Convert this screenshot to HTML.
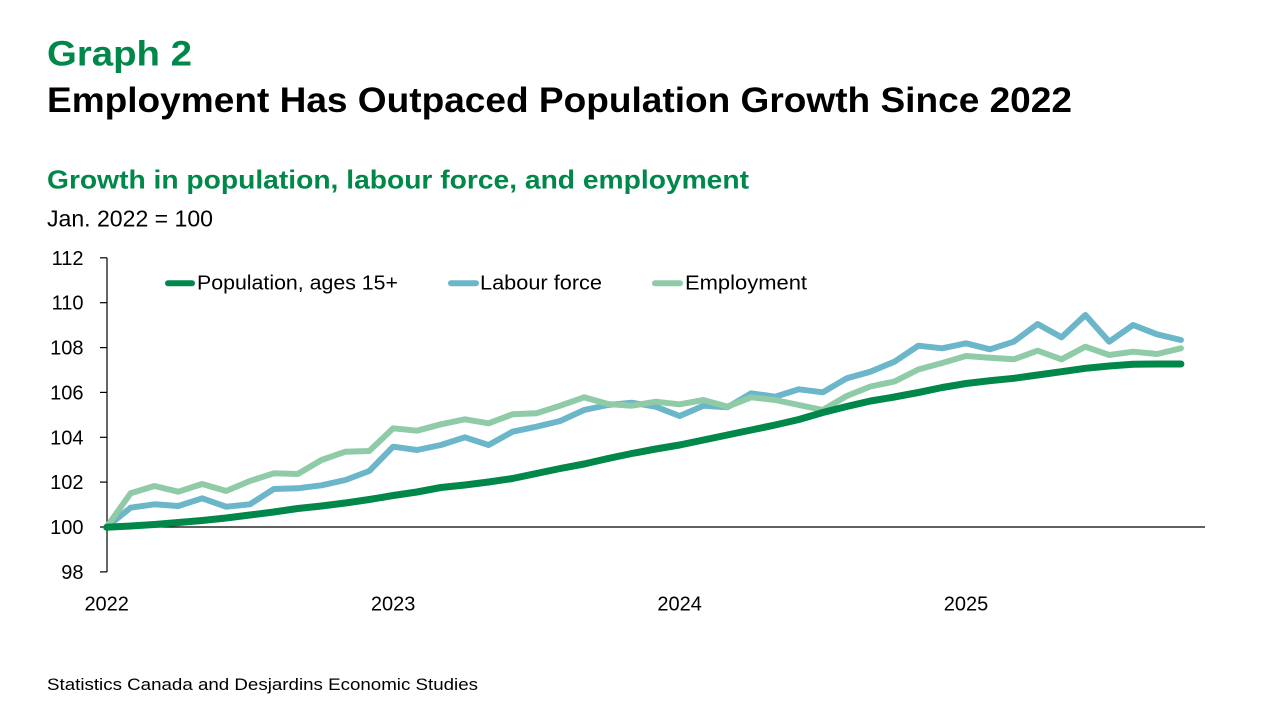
<!DOCTYPE html>
<html>
<head>
<meta charset="utf-8">
<style>
  html, body { margin: 0; padding: 0; background: #ffffff; }
  body { width: 1280px; height: 720px; overflow: hidden; }
  svg { display: block; }
  text { font-family: "Liberation Sans", sans-serif; }
</style>
</head>
<body>
<svg width="1280" height="720" viewBox="0 0 1280 720" xmlns="http://www.w3.org/2000/svg">
  <rect width="1280" height="720" fill="#ffffff"/>

  <!-- Titles -->
  <text x="47" y="65.5" font-size="35" font-weight="bold" fill="#00874A" textLength="145" lengthAdjust="spacingAndGlyphs">Graph 2</text>
  <text x="47" y="112" font-size="35" font-weight="bold" fill="#000000" textLength="1025" lengthAdjust="spacingAndGlyphs">Employment Has Outpaced Population Growth Since 2022</text>
  <text x="47" y="188.3" font-size="26" font-weight="bold" fill="#00874A" textLength="702" lengthAdjust="spacingAndGlyphs">Growth in population, labour force, and employment</text>
  <text x="47" y="226.7" font-size="23" fill="#000000" textLength="166" lengthAdjust="spacingAndGlyphs">Jan. 2022 = 100</text>

  <!-- Axes -->
  <g stroke="#000000" stroke-width="1.2" fill="none">
    <line x1="107" y1="257.8" x2="107" y2="572"/>
    <line x1="107" y1="527" x2="1205" y2="527"/>
    <line x1="100" y1="257.8" x2="107" y2="257.8"/>
    <line x1="100" y1="302.7" x2="107" y2="302.7"/>
    <line x1="100" y1="347.6" x2="107" y2="347.6"/>
    <line x1="100" y1="392.4" x2="107" y2="392.4"/>
    <line x1="100" y1="437.3" x2="107" y2="437.3"/>
    <line x1="100" y1="482.1" x2="107" y2="482.1"/>
    <line x1="100" y1="527" x2="107" y2="527"/>
    <line x1="100" y1="571.9" x2="107" y2="571.9"/>
  </g>

  <!-- Y tick labels -->
  <g font-size="20" fill="#000000" text-anchor="end">
    <text x="83.5" y="265">112</text>
    <text x="83.5" y="309.7">110</text>
    <text x="83.5" y="354.6">108</text>
    <text x="83.5" y="399.4">106</text>
    <text x="83.5" y="444.3">104</text>
    <text x="83.5" y="489.1">102</text>
    <text x="83.5" y="534">100</text>
    <text x="83.5" y="578.9">98</text>
  </g>

  <!-- X tick labels -->
  <g font-size="20" fill="#000000" text-anchor="middle">
    <text x="106.7" y="610.5">2022</text>
    <text x="393.1" y="610.5">2023</text>
    <text x="679.6" y="610.5">2024</text>
    <text x="966" y="610.5">2025</text>
  </g>

  <!-- Series -->
  <g fill="none" stroke-linejoin="round" stroke-linecap="round">
    <polyline stroke="#6BB6C8" stroke-width="6" points="106.7,527 130.6,507.7 154.4,504.3 178.3,506 202.2,498.3 226.1,506.7 249.9,504.3 273.8,489 297.7,488.3 321.5,485.3 345.4,480 369.3,471 393.1,446.7 417,450 440.9,445 464.8,437.3 488.6,445 512.5,431.7 536.4,426.7 560.2,421 584.1,410 608,405 631.8,402.7 655.7,406.7 679.6,416 703.5,405.7 727.3,407.3 751.2,393.3 775.1,396.7 798.9,389.3 822.8,392.3 846.7,378.3 870.5,371.7 894.4,361.7 918.3,345.7 942.2,348.3 966,343.3 989.9,349.3 1013.8,341.7 1037.6,324 1061.5,337.3 1085.4,315 1109.2,341.7 1133.1,325 1157,334.3 1180.9,340"/>
    <polyline stroke="#8FCBA7" stroke-width="6" points="106.7,527 130.6,493.3 154.4,486 178.3,491.7 202.2,484 226.1,491 249.9,481 273.8,473.3 297.7,474 321.5,460 345.4,451.7 369.3,451 393.1,428.3 417,430.7 440.9,424.3 464.8,419.3 488.6,423.3 512.5,414.3 536.4,413.3 560.2,405.7 584.1,397.3 608,404 631.8,405.7 655.7,401.7 679.6,404.3 703.5,400 727.3,406.7 751.2,397.3 775.1,400 798.9,405 822.8,410 846.7,396 870.5,386.5 894.4,381.5 918.3,369.5 942.2,363 966,356 989.9,357.7 1013.8,359.3 1037.6,350.7 1061.5,359.3 1085.4,346.7 1109.2,355 1133.1,351.7 1157,354 1180.9,348.3"/>
    <polyline stroke="#00874A" stroke-width="7" points="106.7,527.3 130.6,526 154.4,524.5 178.3,522.5 202.2,520.5 226.1,518 249.9,515 273.8,512 297.7,508.5 321.5,506 345.4,503 369.3,499.5 393.1,495.5 417,492 440.9,487.5 464.8,485 488.6,482 512.5,478.5 536.4,473.5 560.2,468.5 584.1,464 608,458.5 631.8,453.5 655.7,449 679.6,445 703.5,440 727.3,435 751.2,430 775.1,425 798.9,419.5 822.8,412.5 846.7,406.5 870.5,401 894.4,397 918.3,392.5 942.2,387.5 966,383.5 989.9,380.7 1013.8,378.3 1037.6,375 1061.5,371.7 1085.4,368.3 1109.2,366 1133.1,364.3 1157,364 1180.9,364"/>
  </g>

  <!-- Legend -->
  <g stroke-linecap="round" stroke-width="6">
    <line x1="168" y1="283.3" x2="192" y2="283.3" stroke="#00874A"/>
    <line x1="451" y1="283.3" x2="476" y2="283.3" stroke="#6BB6C8"/>
    <line x1="655" y1="283.3" x2="680" y2="283.3" stroke="#8FCBA7"/>
  </g>
  <g font-size="20" fill="#000000">
    <text x="197" y="289.5" textLength="201" lengthAdjust="spacingAndGlyphs">Population, ages 15+</text>
    <text x="480" y="289.5" textLength="122" lengthAdjust="spacingAndGlyphs">Labour force</text>
    <text x="685" y="289.5" textLength="122" lengthAdjust="spacingAndGlyphs">Employment</text>
  </g>

  <!-- Footer -->
  <text x="47" y="690" font-size="16.5" fill="#000000" textLength="431" lengthAdjust="spacingAndGlyphs">Statistics Canada and Desjardins Economic Studies</text>
</svg>
</body>
</html>
